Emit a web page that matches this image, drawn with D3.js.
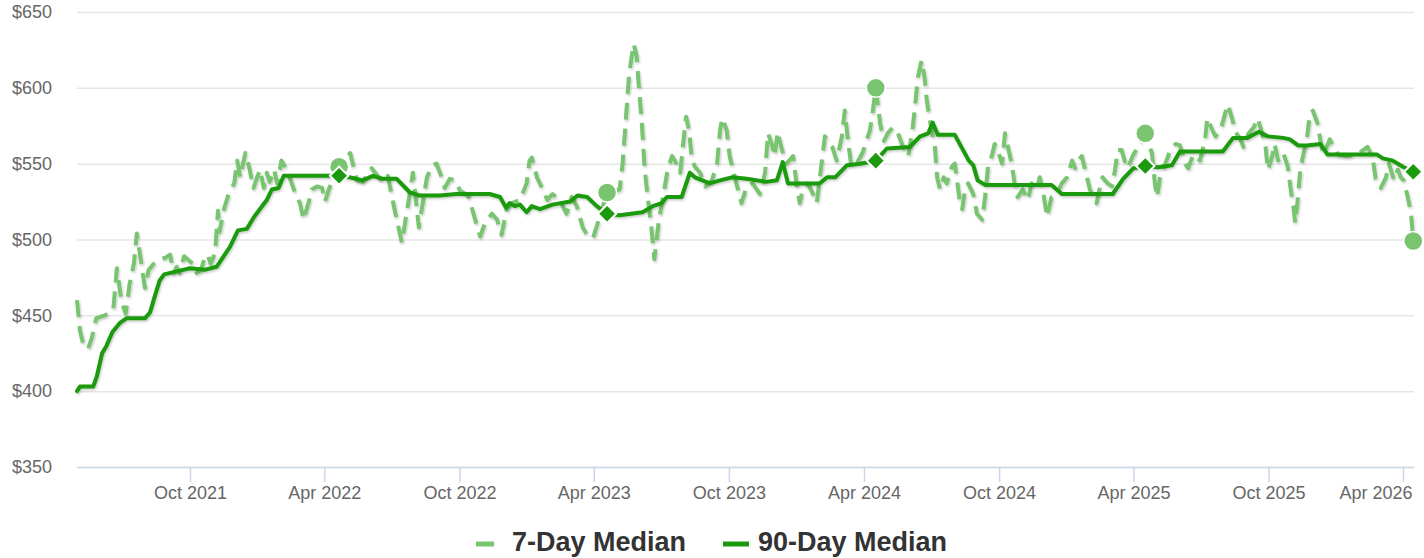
<!DOCTYPE html>
<html>
<head>
<meta charset="utf-8">
<script src="https://cdn.jsdelivr.net/npm/d3@7/dist/d3.min.js"></script>
<style>
  body { margin: 0; background: #fff; }
  svg text { font-family: "Liberation Sans", Arial, Helvetica, sans-serif; }
</style>
</head>
<body>
<div id="chart"></div>
<script>
// 7-day median
var dates7 = [
  "2021-05-01","2021-05-05","2021-05-10","2021-05-16","2021-05-21","2021-05-27","2021-06-01","2021-06-08","2021-06-15","2021-06-19",
  "2021-06-24","2021-06-30","2021-07-06","2021-07-11","2021-07-17","2021-07-21","2021-07-26","2021-08-01","2021-08-06","2021-08-13",
  "2021-08-21","2021-08-29","2021-09-04","2021-09-09","2021-09-13","2021-09-17","2021-09-23","2021-09-30","2021-10-05","2021-10-10",
  "2021-10-16","2021-10-21","2021-10-25","2021-10-29","2021-11-04","2021-11-08","2021-11-10","2021-11-16","2021-11-23","2021-11-30",
  "2021-12-04","2021-12-08","2021-12-15","2021-12-20","2021-12-26","2021-12-31","2022-01-04","2022-01-09","2022-01-13","2022-01-17",
  "2022-01-23","2022-01-27","2022-02-02","2022-02-09","2022-02-16","2022-02-21","2022-02-27","2022-03-04","2022-03-11","2022-03-15",
  "2022-03-22","2022-03-29","2022-04-02","2022-04-07","2022-04-14","2022-04-21","2022-05-06","2022-05-15","2022-05-23","2022-06-04",
  "2022-06-19","2022-06-26","2022-07-05","2022-07-15","2022-07-23","2022-07-30","2022-08-03","2022-08-07","2022-08-18","2022-08-25",
  "2022-08-31","2022-09-07","2022-09-11","2022-09-18","2022-09-25","2022-10-02","2022-10-13","2022-10-20","2022-10-29","2022-11-04",
  "2022-11-14","2022-11-21","2022-11-27","2022-12-04","2022-12-11","2022-12-22","2022-12-31","2023-01-04","2023-01-07","2023-01-14",
  "2023-01-21","2023-01-28","2023-02-04","2023-02-14","2023-02-23","2023-03-02","2023-03-09","2023-03-17","2023-03-24","2023-03-31",
  "2023-04-09","2023-04-19","2023-05-06","2023-05-10","2023-05-15","2023-05-19","2023-05-25","2023-05-29","2023-06-01","2023-06-05",
  "2023-06-09","2023-06-13","2023-06-18","2023-06-22","2023-06-28","2023-07-03","2023-07-10","2023-07-16","2023-07-22","2023-07-27",
  "2023-07-31","2023-08-04","2023-08-08","2023-08-12","2023-08-16","2023-08-23","2023-08-30","2023-09-08","2023-09-15","2023-09-19",
  "2023-09-22","2023-09-28","2023-10-02","2023-10-09","2023-10-18","2023-10-25","2023-11-02","2023-11-12","2023-11-19","2023-11-23",
  "2023-11-28","2023-12-02","2023-12-06","2023-12-12","2023-12-18","2023-12-27","2024-01-01","2024-01-05","2024-01-09","2024-01-16",
  "2024-01-23","2024-01-28","2024-02-08","2024-02-18","2024-02-24","2024-03-02","2024-03-06","2024-03-10","2024-03-15","2024-03-22",
  "2024-03-30","2024-04-09","2024-04-13","2024-04-17","2024-04-23","2024-04-28","2024-05-03","2024-05-10","2024-05-17","2024-05-24",
  "2024-05-31","2024-06-06","2024-06-10","2024-06-13","2024-06-18","2024-06-22","2024-06-25","2024-06-29","2024-07-06","2024-07-09",
  "2024-07-13","2024-07-18","2024-07-22","2024-07-29","2024-08-02","2024-08-05","2024-08-09","2024-08-12","2024-08-16","2024-08-20",
  "2024-08-27","2024-09-01","2024-09-08","2024-09-12","2024-09-16","2024-09-21","2024-09-25","2024-09-29","2024-10-05","2024-10-09",
  "2024-10-13","2024-10-18","2024-10-22","2024-10-26","2024-11-02","2024-11-09","2024-11-14","2024-11-21","2024-11-25","2024-11-29",
  "2024-12-02","2024-12-05","2024-12-11","2024-12-18","2024-12-25","2025-01-01","2025-01-08","2025-01-12","2025-01-16","2025-01-21",
  "2025-01-28","2025-02-01","2025-02-06","2025-02-10","2025-02-14","2025-02-18","2025-02-25","2025-03-03","2025-03-07","2025-03-11",
  "2025-03-16","2025-03-20","2025-03-24","2025-03-31","2025-04-17","2025-04-26","2025-04-30","2025-05-03","2025-05-07","2025-05-14",
  "2025-05-21","2025-05-28","2025-06-03","2025-06-10","2025-06-14","2025-06-21","2025-06-30","2025-07-07","2025-07-10","2025-07-17",
  "2025-07-21","2025-07-28","2025-08-03","2025-08-07","2025-08-13","2025-08-17","2025-08-24","2025-08-28","2025-09-04","2025-09-11",
  "2025-09-16","2025-09-20","2025-09-27","2025-09-30","2025-10-06","2025-10-09","2025-10-14","2025-10-21","2025-10-27","2025-10-31",
  "2025-11-04","2025-11-06","2025-11-09","2025-11-13","2025-11-17","2025-11-22","2025-11-26","2025-11-30","2025-12-06","2025-12-10",
  "2025-12-14","2025-12-23","2025-12-27","2026-01-03","2026-01-15","2026-01-29","2026-02-12","2026-02-19","2026-02-23","2026-03-02",
  "2026-03-09","2026-03-13","2026-03-20","2026-03-25","2026-03-29","2026-04-02","2026-04-08","2026-04-12","2026-04-15"
];
var values7 = [
  460,440,430,428,435,448,449,450,452,453,
  481,460,451,470,484,504,488,468,480,484,
  487,488,490,478,482,478,489,486,484,478,
  480,488,490,484,491,519,505,520,531,537,
  552,541,557,548,534,541,546,534,544,538,
  546,537,552,546,537,530,524,513,525,533,
  535,534,525,533,541,548,557,539,538,547,
  538,542,520,498,522,544,526,508,541,549,
  550,541,534,540,539,532,529,517,502,510,
  517,513,503,520,524,526,537,552,554,541,
  534,526,530,526,517,528,522,508,502,501,
  515,531,533,550,583,610,629,621,601,577,
  546,528,508,487,512,526,546,555,550,544,
  563,581,572,552,548,544,535,539,550,572,
  580,572,555,541,524,535,537,530,544,570,
  563,555,571,559,550,555,535,524,533,537,
  530,524,568,561,552,568,585,566,548,550,
  557,572,585,600,576,565,570,574,570,561,
  555,574,592,607,618,607,592,579,561,541,
  533,541,537,548,550,539,524,520,533,537,
  530,517,513,528,548,555,563,559,550,570,
  561,550,537,528,533,526,537,533,541,533,
  524,515,528,530,537,541,552,547,552,555,
  541,533,528,524,533,541,537,535,546,559,
  559,552,547,555,570,557,537,528,541,550,
  559,563,562,550,547,556,552,566,580,572,
  568,572,583,589,579,571,566,561,570,574,
  580,574,561,546,555,563,552,557,548,533,
  520,511,524,546,556,567,583,585,577,566,
  556,566,562,556,555,556,561,554,540,534,
  541,550,539,546,541,539,527,517,499
];

// 90-day median
var dates90 = [
  "2021-05-01","2021-05-05","2021-05-23","2021-05-28","2021-06-04","2021-06-10","2021-06-18","2021-06-28","2021-07-07","2021-08-01",
  "2021-08-08","2021-08-14","2021-08-21","2021-08-27","2021-09-13","2021-10-01","2021-10-21","2021-11-06","2021-11-24","2021-12-05",
  "2021-12-17","2021-12-27","2022-01-13","2022-01-20","2022-01-29","2022-02-05","2022-04-21","2022-05-05","2022-05-23","2022-06-06",
  "2022-06-19","2022-07-08","2022-07-26","2022-08-08","2022-09-04","2022-09-27","2022-11-11","2022-11-25","2022-12-03","2022-12-08",
  "2022-12-15","2022-12-22","2022-12-31","2023-01-07","2023-01-18","2023-02-04","2023-02-28","2023-03-10","2023-03-23","2023-04-05",
  "2023-04-19","2023-05-06","2023-06-06","2023-06-20","2023-07-02","2023-07-09","2023-07-29","2023-08-09","2023-08-16","2023-09-05",
  "2023-09-19","2023-10-06","2023-10-25","2023-11-21","2023-12-05","2023-12-13","2023-12-20","2024-02-01","2024-02-11","2024-02-22",
  "2024-03-09","2024-03-27","2024-04-17","2024-05-02","2024-06-02","2024-06-16","2024-06-27","2024-07-03","2024-07-10","2024-08-02",
  "2024-08-21","2024-08-27","2024-09-02","2024-09-12","2024-12-11","2024-12-25","2025-03-04","2025-03-18","2025-04-01","2025-04-17",
  "2025-05-04","2025-05-23","2025-06-03","2025-07-31","2025-08-14","2025-09-02","2025-09-18","2025-09-30","2025-10-21","2025-10-30",
  "2025-11-10","2025-11-22","2025-12-10","2025-12-20","2026-02-25","2026-03-05","2026-03-18","2026-04-01","2026-04-15"
];
var values90 = [
  400,403,403,410,425,430,439,445,448,448,
  452,462,473,477,479,481,480,482,495,506,
  507,515,526,533,534,542,542,541,539,542,
  540,540,531,529,529,530,530,528,521,524,
  522,523,518,522,520,523,525,529,528,522,
  517,516,518,522,524,528,528,544,541,537,
  539,541,540,538,539,551,537,537,541,541,
  549,550,552,560,561,568,570,577,569,569,
  552,549,539,536,536,530,530,540,547,548.5,
  547.6,549,558,558,567,567,571,568,567,566,
  562,562,563,556,556,553.5,552,548,544.7
];

// yearly highlighted points
var markerDates = ["2022-04-21", "2023-04-19", "2024-04-17", "2025-04-17", "2026-04-15"];
var marker7 = [548, 531, 600, 570, 499];
var marker90 = [542, 517, 552, 548.5, 544.7];

var yTicks = [350, 400, 450, 500, 550, 600, 650];
var xTickDates = ["2021-10-01", "2022-04-01", "2022-10-01", "2023-04-01", "2023-10-01",
                  "2024-04-01", "2024-10-01", "2025-04-01", "2025-10-01", "2026-04-01"];
var seriesNames = ["7-Day Median", "90-Day Median"];

var color7 = "#78c46f", color90 = "#1a9a0c";

var W = 1424, H = 558;
var margin = { top: 12, right: 10, bottom: 91, left: 77 },
    width = W - margin.left - margin.right,
    height = H - margin.top - margin.bottom;

var parse = d3.timeParse("%Y-%m-%d");

var svg = d3.select("#chart").append("svg")
    .attr("width", W)
    .attr("height", H);

// soft shadow like the original lines
var defs = svg.append("defs");
defs.append("filter").attr("id", "shadow")
    .attr("x", "-5%").attr("y", "-10%").attr("width", "110%").attr("height", "120%")
  .append("feDropShadow")
    .attr("dx", 1).attr("dy", 1.5).attr("stdDeviation", 1)
    .attr("flood-color", "#000").attr("flood-opacity", 0.22);

var g = svg.append("g")
    .attr("transform", "translate(" + margin.left + "," + margin.top + ")");

var x = d3.scaleTime()
    .domain([parse("2021-05-01"), parse("2026-04-16")])
    .range([0, width]);

var y = d3.scaleLinear()
    .domain([350, 650])
    .range([height, 0]);

// grid + y labels
var yAxis = g.append("g")
    .call(d3.axisLeft(y).tickValues(yTicks).tickSize(-width).tickPadding(25)
        .tickFormat(function (d) { return "$" + d; }));
yAxis.select(".domain").remove();
yAxis.selectAll("line").attr("stroke", "#e6e6e6").attr("stroke-width", 1.5);
yAxis.selectAll("text").attr("fill", "#666").style("font-size", "18px");

// x axis
var xAxis = g.append("g")
    .attr("transform", "translate(0," + height + ")")
    .call(d3.axisBottom(x).tickValues(xTickDates.map(parse)).tickSize(15).tickSizeOuter(0).tickPadding(4)
        .tickFormat(d3.timeFormat("%b %Y")));
xAxis.select(".domain").attr("stroke", "#ccd6eb").attr("stroke-width", 1.5);
xAxis.selectAll("line").attr("stroke", "#ccd6eb").attr("stroke-width", 1.5);
xAxis.selectAll("text").attr("fill", "#666").style("font-size", "18px");

// keep the last label inside the chart, like the original
var lastTick = xAxis.selectAll(".tick").filter(function (d, i, n) { return i === n.length - 1; });
var lastX = x(parse(xTickDates[xTickDates.length - 1]));
lastTick.select("text")
    .attr("text-anchor", "end")
    .attr("x", (W - 12 - margin.left) - lastX);

var data7 = dates7.map(function (d, i) { return { date: parse(d), value: values7[i] }; });
var data90 = dates90.map(function (d, i) { return { date: parse(d), value: values90[i] }; });
var markers = markerDates.map(function (d, i) { return { date: parse(d), v7: marker7[i], v90: marker90[i] }; });

var line = d3.line()
    .x(function (d) { return x(d.date); })
    .y(function (d) { return y(d.value); });

g.append("path")
    .datum(data7)
    .attr("d", line)
    .attr("fill", "none")
    .attr("stroke", color7)
    .attr("stroke-width", 4)
    .attr("stroke-dasharray", "17,9")
    .attr("stroke-linejoin", "round")
    .attr("filter", "url(#shadow)");

g.append("path")
    .datum(data90)
    .attr("d", line)
    .attr("fill", "none")
    .attr("stroke", color90)
    .attr("stroke-width", 4)
    .attr("stroke-linejoin", "round")
    .attr("stroke-linecap", "round")
    .attr("filter", "url(#shadow)");

// circle markers on 7-day
g.selectAll(".m7").data(markers).enter().append("circle")
    .attr("class", "m7")
    .attr("cx", function (d) { return x(d.date); })
    .attr("cy", function (d) { return y(d.v7); })
    .attr("r", 9.5)
    .attr("fill", color7)
    .attr("stroke", "#fff")
    .attr("stroke-width", 1.5);

// diamond markers on 90-day
var diamond = d3.symbol().type(d3.symbolSquare).size(170);
g.selectAll(".m90").data(markers).enter().append("path")
    .attr("class", "m90")
    .attr("d", diamond)
    .attr("transform", function (d) { return "translate(" + x(d.date) + "," + y(d.v90) + ") rotate(45)"; })
    .attr("fill", color90)
    .attr("stroke", "#fff")
    .attr("stroke-width", 2);

// legend
var legend = svg.append("g").attr("transform", "translate(0,544)");
var items = [
  { name: seriesNames[0], x: 476, len: 18, gap: 18, color: color7 },
  { name: seriesNames[1], x: 723, len: 26, gap: 9, color: color90 }
];
var li = legend.selectAll(".item").data(items).enter().append("g").attr("class", "item");
li.append("line")
    .attr("x1", function (d) { return d.x; })
    .attr("x2", function (d) { return d.x + d.len; })
    .attr("y1", 0).attr("y2", 0)
    .attr("stroke", function (d) { return d.color; })
    .attr("stroke-width", 5);
li.append("text")
    .attr("x", function (d) { return d.x + d.len + d.gap; })
    .attr("y", 7)
    .attr("fill", "#333")
    .style("font-size", "27px")
    .style("font-weight", "bold")
    .text(function (d) { return d.name; });
</script>
</body>
</html>
